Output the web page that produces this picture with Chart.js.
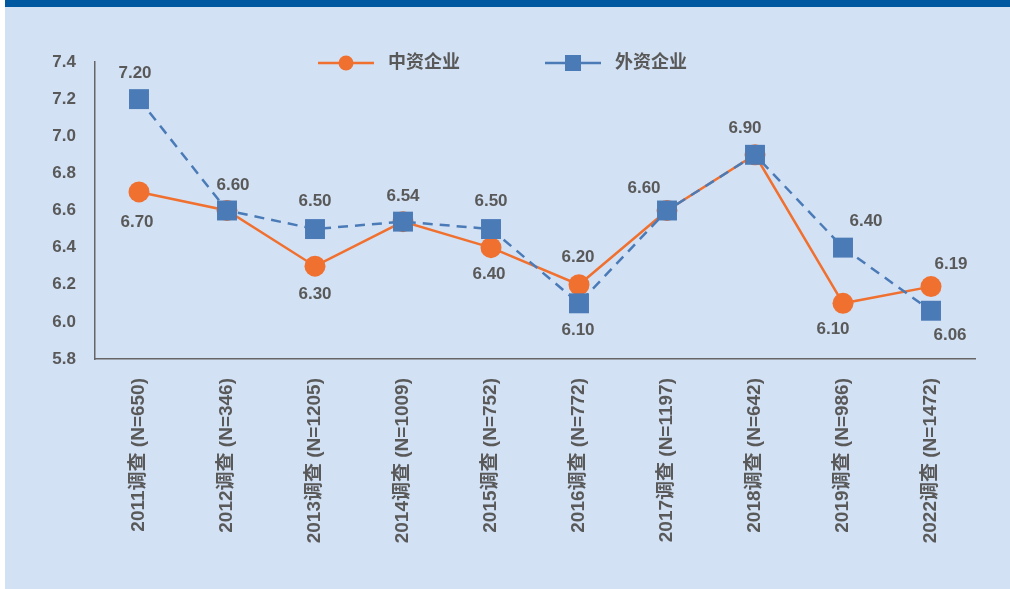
<!DOCTYPE html>
<html>
<head>
<meta charset="utf-8">
<script src="https://cdn.jsdelivr.net/npm/chart.js@4.4.1/dist/chart.umd.min.js"></script>
<style>
  html, body { margin: 0; padding: 0; background: #ffffff; }
  #wrap { width: 1010px; height: 589px; }
</style>
</head>
<body>
<div id="wrap"><canvas id="surveyChart" width="1010" height="589"></canvas></div>
<script>
// Survey rounds and sample sizes
const surveyLabels = [
    '2011调查 (N=650)', '2012调查 (N=346)', '2013调查 (N=1205)', '2014调查 (N=1009)',
    '2015调查 (N=752)', '2016调查 (N=772)', '2017调查 (N=1197)', '2018调查 (N=642)',
    '2019调查 (N=986)', '2022调查 (N=1472)'
];

// Average scores
const chineseFirms = [6.70, 6.60, 6.30, 6.54, 6.40, 6.20, 6.60, 6.90, 6.10, 6.19];
const foreignFirms = [7.20, 6.60, 6.50, 6.54, 6.50, 6.10, 6.60, 6.90, 6.40, 6.06];

// Y axis range
const yMin = 5.8;
const yMax = 7.4;
const yStep = 0.2;

// Where each value label sits relative to its point (null = no label)
const chineseLabelOffsets = [[-2, 30], null, [0, 28], null, [-2, 27], [-1, -27], null, null, [-10, 26], [20, -22]];
const foreignLabelOffsets = [[-4, -26], [6, -25], [0, -28], [0, -25], [0, -28], [-1, 27], [-23, -22], [-10, -27], [23, -26], [19, 25]];

const TEXT_GREY = '#595959';
const ORANGE = '#f0702f';
const BLUE = '#4a7bb7';
const FONT = '"Liberation Sans", Arial, "Noto Sans CJK SC", sans-serif';

const backgroundPlugin = {
    id: 'panelBackground',
    beforeDraw(chart) {
        const { ctx, width, height } = chart;
        ctx.save();
        ctx.fillStyle = '#ffffff';
        ctx.fillRect(0, 0, width, height);
        ctx.fillStyle = '#d3e1f4';
        ctx.fillRect(5, 0, width - 5, height);
        ctx.fillStyle = '#0059a0';
        ctx.fillRect(5, 0, width - 5, 7);
        ctx.restore();
    }
};

const valueLabelPlugin = {
    id: 'valueLabels',
    afterDatasetsDraw(chart) {
        const { ctx } = chart;
        ctx.save();
        ctx.font = 'bold 17px ' + FONT;
        ctx.fillStyle = TEXT_GREY;
        ctx.textAlign = 'center';
        ctx.textBaseline = 'middle';
        chart.data.datasets.forEach((ds, i) => {
            const meta = chart.getDatasetMeta(i);
            meta.data.forEach((pt, j) => {
                const off = ds.labelOffsets[j];
                if (!off) return;
                ctx.fillText(ds.data[j].toFixed(2), pt.x + off[0], pt.y + off[1]);
            });
        });
        ctx.restore();
    }
};

// Legend: short line with the series marker in the middle, then the name
const lineLegendPlugin = {
    id: 'lineLegend',
    afterDraw(chart) {
        const { ctx } = chart;
        const items = [
            { x: 318, ds: chart.data.datasets[0] },
            { x: 545, ds: chart.data.datasets[1] }
        ];
        const y = 63;
        ctx.save();
        items.forEach(item => {
            const ds = item.ds;
            ctx.strokeStyle = ds.borderColor;
            ctx.lineWidth = 2.5;
            ctx.beginPath();
            ctx.moveTo(item.x, y);
            ctx.lineTo(item.x + 56, y);
            ctx.stroke();
            ctx.fillStyle = ds.pointBackgroundColor;
            const cx = item.x + 28;
            if (ds.pointStyle === 'rect') {
                ctx.fillRect(cx - 8, y - 8, 16, 16);
            } else {
                ctx.beginPath();
                ctx.arc(cx, y, 7.5, 0, Math.PI * 2);
                ctx.fill();
            }
            ctx.font = 'bold 18px ' + FONT;
            ctx.fillStyle = TEXT_GREY;
            ctx.textAlign = 'left';
            ctx.textBaseline = 'middle';
            ctx.fillText(ds.label, item.x + 70, y);
        });
        ctx.restore();
    }
};

const ctx = document.getElementById('surveyChart').getContext('2d');

new Chart(ctx, {
    type: 'line',
    data: {
        labels: surveyLabels,
        datasets: [
            {
                label: '中资企业',
                data: chineseFirms,
                labelOffsets: chineseLabelOffsets,
                borderColor: ORANGE,
                backgroundColor: ORANGE,
                borderWidth: 2.5,
                pointStyle: 'circle',
                pointRadius: 10.5,
                pointHoverRadius: 10.5,
                pointBackgroundColor: ORANGE,
                pointBorderWidth: 0,
                tension: 0,
                order: 2
            },
            {
                label: '外资企业',
                data: foreignFirms,
                labelOffsets: foreignLabelOffsets,
                borderColor: BLUE,
                backgroundColor: BLUE,
                borderWidth: 2.5,
                borderDash: [10, 7],
                pointStyle: 'rect',
                pointRadius: 14.1,
                pointHoverRadius: 14.1,
                pointBackgroundColor: BLUE,
                pointBorderWidth: 0,
                tension: 0,
                order: 1
            }
        ]
    },
    options: {
        responsive: false,
        animation: false,
        layout: {
            padding: { left: 45, right: 35, top: 62, bottom: 0 }
        },
        plugins: {
            legend: { display: false },
            tooltip: { enabled: false }
        },
        scales: {
            x: {
                offset: true,
                grid: { display: false, drawTicks: false },
                border: { display: true, color: '#666666', width: 1.5 },
                afterFit: (scale) => { scale.height = 230; },
                ticks: {
                    autoSkip: false,
                    minRotation: 90,
                    maxRotation: 90,
                    padding: 19,
                    color: TEXT_GREY,
                    font: { family: FONT, size: 19, weight: 'bold' }
                }
            },
            y: {
                min: yMin,
                max: yMax,
                grid: { display: false, drawTicks: false },
                border: { display: true, color: '#666666', width: 1.5 },
                afterFit: (scale) => { scale.width = 50; },
                ticks: {
                    stepSize: yStep,
                    padding: 19,
                    color: TEXT_GREY,
                    font: { family: FONT, size: 17, weight: 'bold' },
                    callback: (v) => v.toFixed(1)
                }
            }
        }
    },
    plugins: [backgroundPlugin, valueLabelPlugin, lineLegendPlugin]
});
</script>
</body>
</html>
